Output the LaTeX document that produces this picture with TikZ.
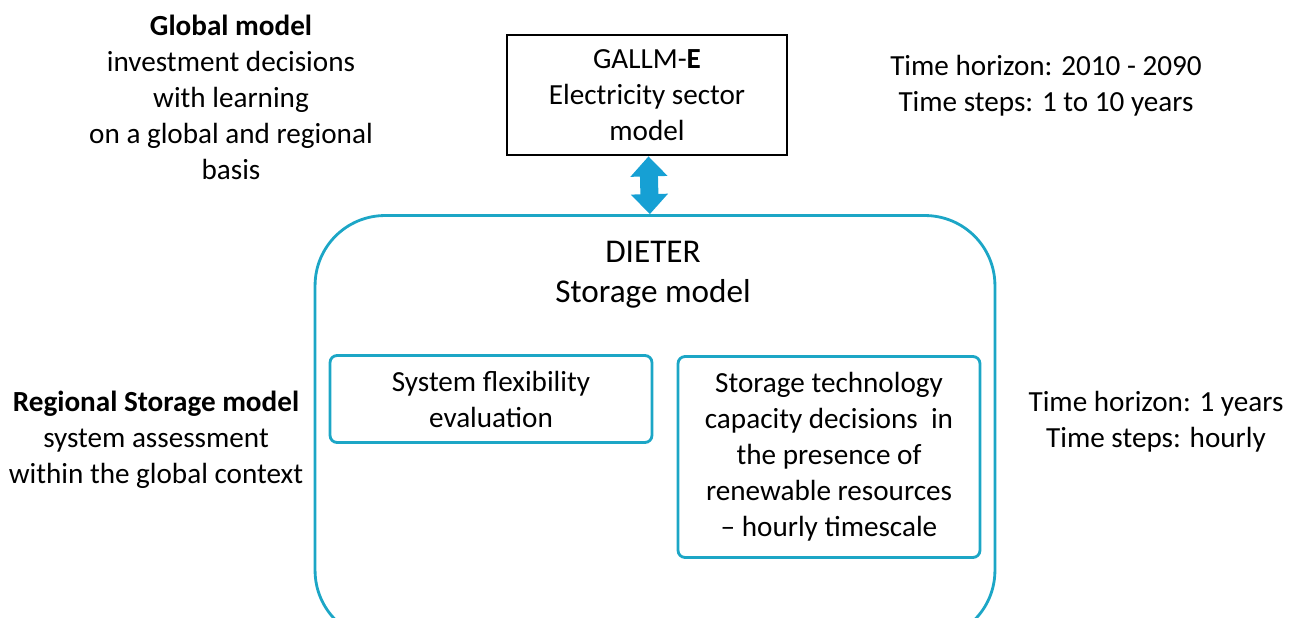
\documentclass[tikz,border=0pt]{standalone}
\usepackage{fontspec}
\setmainfont{Carlito}
\usepackage{xcolor}
\usetikzlibrary{arrows.meta}
\definecolor{dieterblue}{RGB}{28,166,198}
\definecolor{arrowblue}{RGB}{22,160,212}
\tikzstyle{plaintext} = [text centered, align=center, font=\fontsize{16.6}{20.5}\selectfont]
\tikzstyle{titletext} = [text centered, align=center, font=\fontsize{18.9}{22.8}\selectfont]
\tikzstyle{outerbox} = [rectangle, draw=black, line width=1.6pt]
\tikzstyle{bigbox} = [rectangle, draw=dieterblue, line width=1.6pt, rounded corners=1.4cm]
\tikzstyle{innerbox} = [rectangle, draw=dieterblue, line width=1.6pt, rounded corners=4pt]
\tikzstyle{connector} = [draw=arrowblue, line width=0.36cm, {Triangle[width=0.72cm,length=0.4cm]}-{Triangle[width=0.72cm,length=0.4cm]}]

\begin{document}
\begin{tikzpicture}[x=0.02cm, y=-0.02cm]
        \useasboundingbox (0,0) rectangle (1296,618);

        \node [outerbox, minimum width=5.6cm, minimum height=2.4cm, plaintext] at (647,95) (gallm)
        {GALLM-\textbf{E}\\Electricity sector\\model};

        \node [bigbox, minimum width=13.6cm, minimum height=8.5cm] at (655,428) (dieter) {};
        \node [titletext] at (653,275) (dietertitle) {DIETER\\Storage model};

        \node [innerbox, minimum width=6.44cm, minimum height=1.74cm, plaintext] at (491,399) (flex)
        {System flexibility\\evaluation};

        \node [innerbox, minimum width=6.04cm, minimum height=4.02cm, plaintext] at (829,457) (storage)
        {Storage technology\\capacity decisions\ \ in\\the presence of\\renewable resources\\-- hourly timescale};

        \node [plaintext] at (231,97) (globaltxt)
        {\textbf{Global model}\\investment decisions\\with learning\\on a global and regional\\basis};

        \node [plaintext] at (156,440) (regionaltxt)
        {\textbf{Regional Storage model}\\system assessment\\within the global context};

        \node [plaintext] at (1046,86) (longterm)
        {Time horizon: 2010 - 2090\\Time steps: 1 to 10 years};

        \node [plaintext] at (1156,422) (shortterm)
        {Time horizon: 1 years\\Time steps: hourly};

        \path [connector] (gallm) -- (dieter);
    \end{tikzpicture}
\end{document}
